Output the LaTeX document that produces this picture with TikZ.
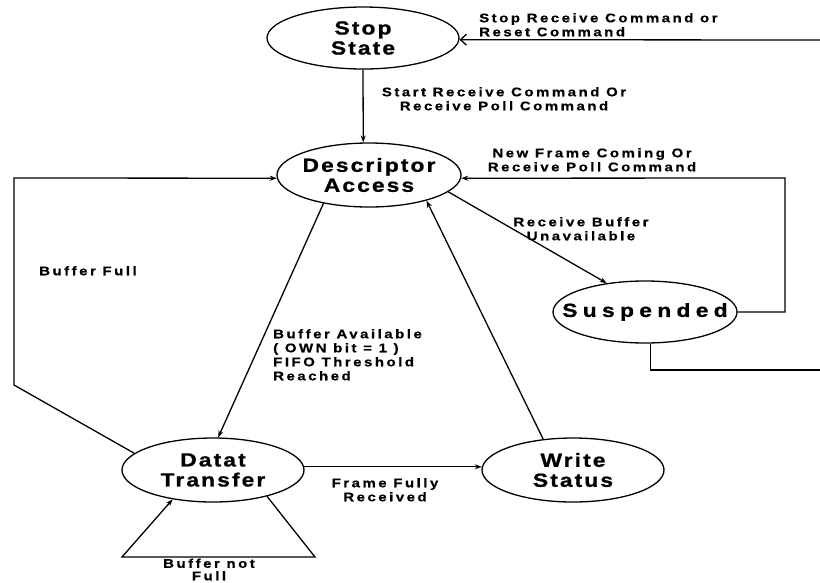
\documentclass[tikz,border=0pt]{standalone}
\usepackage{fontspec}
\setmainfont{Liberation Sans}
\newfontfamily\bigf{Liberation Sans Bold}[FakeStretch=1.2, FakeBold=1, LetterSpace=11]
\newfontfamily\suspf{Liberation Sans Bold}[FakeStretch=1.2, FakeBold=1, LetterSpace=28]
\newfontfamily\smallf{Liberation Sans Bold}[FakeStretch=1.2, FakeBold=0.6, LetterSpace=20]
\usetikzlibrary{shapes.geometric,arrows.meta}
\tikzset{
  state/.style={ellipse, draw, line width=1.3pt, inner xsep=-30pt, inner ysep=0pt, align=center,
    font=\bigf\fontsize{19}{20}\selectfont},
  lbl/.style={inner sep=0pt, font=\smallf\fontsize{12.5}{14}\selectfont},
  conn/.style={line width=1.3pt},
  arr/.style={conn, -{Stealth[length=7pt,width=5pt]}},
  barb/.style={conn, -{Straight Barb[length=6pt,width=11pt]}}
}
\begin{document}
\begin{tikzpicture}[x=1pt,y=-1pt]
\useasboundingbox (0,0) rectangle (820,582);
% states
\node[state, minimum width=192pt, minimum height=62pt] (stop) at (363,38) {Stop\\State};
\node[state, minimum width=184pt, minimum height=64pt] (desc) at (369,175) {Descriptor\\Access};
\node[state, minimum width=184pt, minimum height=62pt, font=\suspf\fontsize{19}{20}\selectfont] (susp) at (645,312) {Suspended};
\node[state, minimum width=182pt, minimum height=64pt] (data) at (213,470) {Datat\\Transfer};
\node[state, minimum width=182pt, minimum height=64pt] (write) at (573,470) {Write\\Status};
% free ends and bends
\coordinate (in1) at (820,40);
\coordinate (out2) at (820,370);
\coordinate (sr) at (785,178);
\coordinate (bl1) at (14,385);
\coordinate (bl2) at (14,178);
\coordinate (sl1) at (315,557);
\coordinate (sl2) at (122,557);
% connectors
\draw[barb] (in1) -- (stop.-1.3);
\draw[arr] (stop.south) -- (desc.100);
\draw[arr] (susp.east) -| (sr) -- (desc.-2);
\draw[conn] (susp.-80) |- (out2);
\draw[arr] (desc.-12.3) -- (susp.143.4);
\draw[arr] (desc.212.5) -- (data.81);
\draw[arr] (write.134) -- (desc.-24);
\draw[arr] (data.2) -- (write.178);
\draw[arr] (data.168) -- (bl1) -- (bl2) -- (desc.182);
\draw[arr] (data.-26) -- (sl1) -- (sl2) -- (data.216);
% labels
\node[lbl, anchor=north west, align=left] (l1) at (479,13) {Stop Receive Command or\\Reset Command};
\node[lbl, anchor=north, align=center] (l2) at (504,87) {Start Receive Command Or\\Receive Poll Command};
\node[lbl, anchor=north, align=center] (l3) at (592,148) {New Frame Coming Or\\Receive Poll Command};
\node[lbl, anchor=north, align=center] (l4) at (581,217) {Receive Buffer\\Unavailable};
\node[lbl, anchor=north west, align=left] (l5) at (273,329) {Buffer Available\\( OWN bit = 1 )\\FIFO Threshold\\Reached};
\node[lbl, anchor=north west, align=left] (l6) at (39,266) {Buffer Full};
\node[lbl, anchor=north, align=center] (l7) at (385,478) {Frame Fully\\Received};
\node[lbl, anchor=north, align=center, font=\smallf\fontsize{12.5}{12.5}\selectfont] (l8) at (209,558.5) {Buffer not\\Full};
\end{tikzpicture}
\end{document}
